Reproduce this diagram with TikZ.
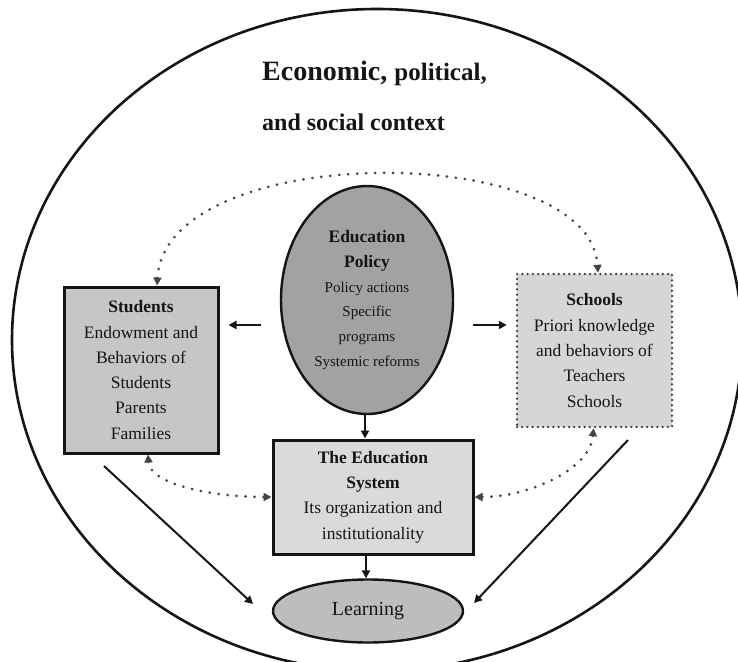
\documentclass[tikz,border=0pt]{standalone}
\usepackage{fontspec}
\setmainfont{Liberation Serif}
\usetikzlibrary{arrows.meta,shapes.geometric,calc}
\definecolor{polfill}{HTML}{A2A2A2}
\definecolor{stufill}{HTML}{C6C6C6}
\definecolor{schfill}{HTML}{D6D6D6}
\definecolor{sysfill}{HTML}{DADADA}
\definecolor{leafill}{HTML}{BDBDBD}
\definecolor{ink}{HTML}{151515}
\begin{document}
\begin{tikzpicture}[x=1pt,y=-1pt,
  every node/.style={text=ink},
  boxtxt/.style={font=\fontsize{17.5}{25.3}\selectfont, align=center, inner sep=0pt},
  solidbox/.style={boxtxt, rectangle, draw=ink, line width=3pt},
  arr/.style={draw=ink, line width=2pt, -{Triangle[length=8pt,width=8pt]}},
  dotline/.style={draw=ink!80, line width=3pt, line cap=round, dash pattern=on 0pt off 9pt,
    {Triangle[length=8pt,width=8pt]}-{Triangle[length=8pt,width=8pt]}}]
\useasboundingbox (0,0) rectangle (738,661);
\clip (0,0) rectangle (738,661);
\fill[white] (0,0) rectangle (738,661);

% outer context ellipse
\draw[ink, line width=2.6pt] (377,340) ellipse [x radius=365, y radius=331];

% title
\node[anchor=base west, inner sep=0pt, font=\bfseries] (ttl1) at (262,80)
  {{\fontsize{28}{30}\selectfont Economic, }{\fontsize{25}{30}\selectfont political,}};
\node[anchor=base west, inner sep=0pt, font=\bfseries\fontsize{24}{30}\selectfont] (ttl2) at (262,130)
  {and social context};

% nodes
\node[ellipse, draw=ink, line width=2.4pt, fill=polfill, minimum width=172pt, minimum height=228pt,
  inner sep=0pt, align=center, font=\fontsize{15}{24.8}\selectfont] (pol) at (367,300)
  {{\bfseries\fontsize{17.5}{24.8}\selectfont Education}\\{\bfseries\fontsize{17.5}{24.8}\selectfont Policy}\\Policy actions\\Specific\\programs\\Systemic reforms};

\node[solidbox, fill=stufill, minimum width=154pt, minimum height=166pt] (stu) at (141,370)
  {\textbf{Students}\\Endowment and\\Behaviors of\\Students\\Parents\\Families};

\node[boxtxt, rectangle, fill=schfill, draw=ink!85, line width=2.5pt, line cap=round,
  dash pattern=on 0pt off 5.2pt, minimum width=155pt, minimum height=153pt] (sch) at (594.5,350.5)
  {\textbf{Schools}\\Priori knowledge\\and behaviors of\\Teachers\\Schools};

\node[solidbox, fill=sysfill, minimum width=200pt, minimum height=114pt] (sys) at (373,497)
  {\textbf{The Education}\\\textbf{System}\\Its organization and\\institutionality};

\node[ellipse, draw=ink, line width=2.4pt, fill=leafill, minimum width=190pt, minimum height=63pt,
  inner sep=0pt, font=\fontsize{20}{24}\selectfont] (lea) at (368,611) {Learning};

% solid arrows
\draw[arr, shorten <=19pt, shorten >=9pt] ([yshift=-25pt]pol.west) -- ([yshift=-25pt]pol.west -| stu.east);
\draw[arr, shorten <=19pt, shorten >=9pt] ([yshift=-25pt]pol.east) -- ([yshift=-25pt]pol.east -| sch.west);
\draw[arr] ([xshift=-2pt]pol.south) -- ([xshift=-2pt]pol.south |- sys.north);
\draw[arr] ([xshift=-7pt]sys.south) -- ([xshift=-7pt]sys.south |- lea.north);

\coordinate (stuout) at (104,466);
\coordinate (schout) at (628,440);
\draw[arr] (stuout) -- (253,604);
\draw[arr] (schout) -- (474,603);

% dotted bidirectional links
\draw[dotline] ([xshift=16pt]stu.north) .. controls (166,140) and (590,140) .. ([xshift=3.5pt]sch.north);
\draw[dotline] ([xshift=7pt]stu.south) .. controls (150,485) and (215,497) .. (sys.west);
\draw[dotline] ([xshift=-1pt]sch.south) .. controls (590,470) and (528,497) .. (sys.east);
\end{tikzpicture}
\end{document}
